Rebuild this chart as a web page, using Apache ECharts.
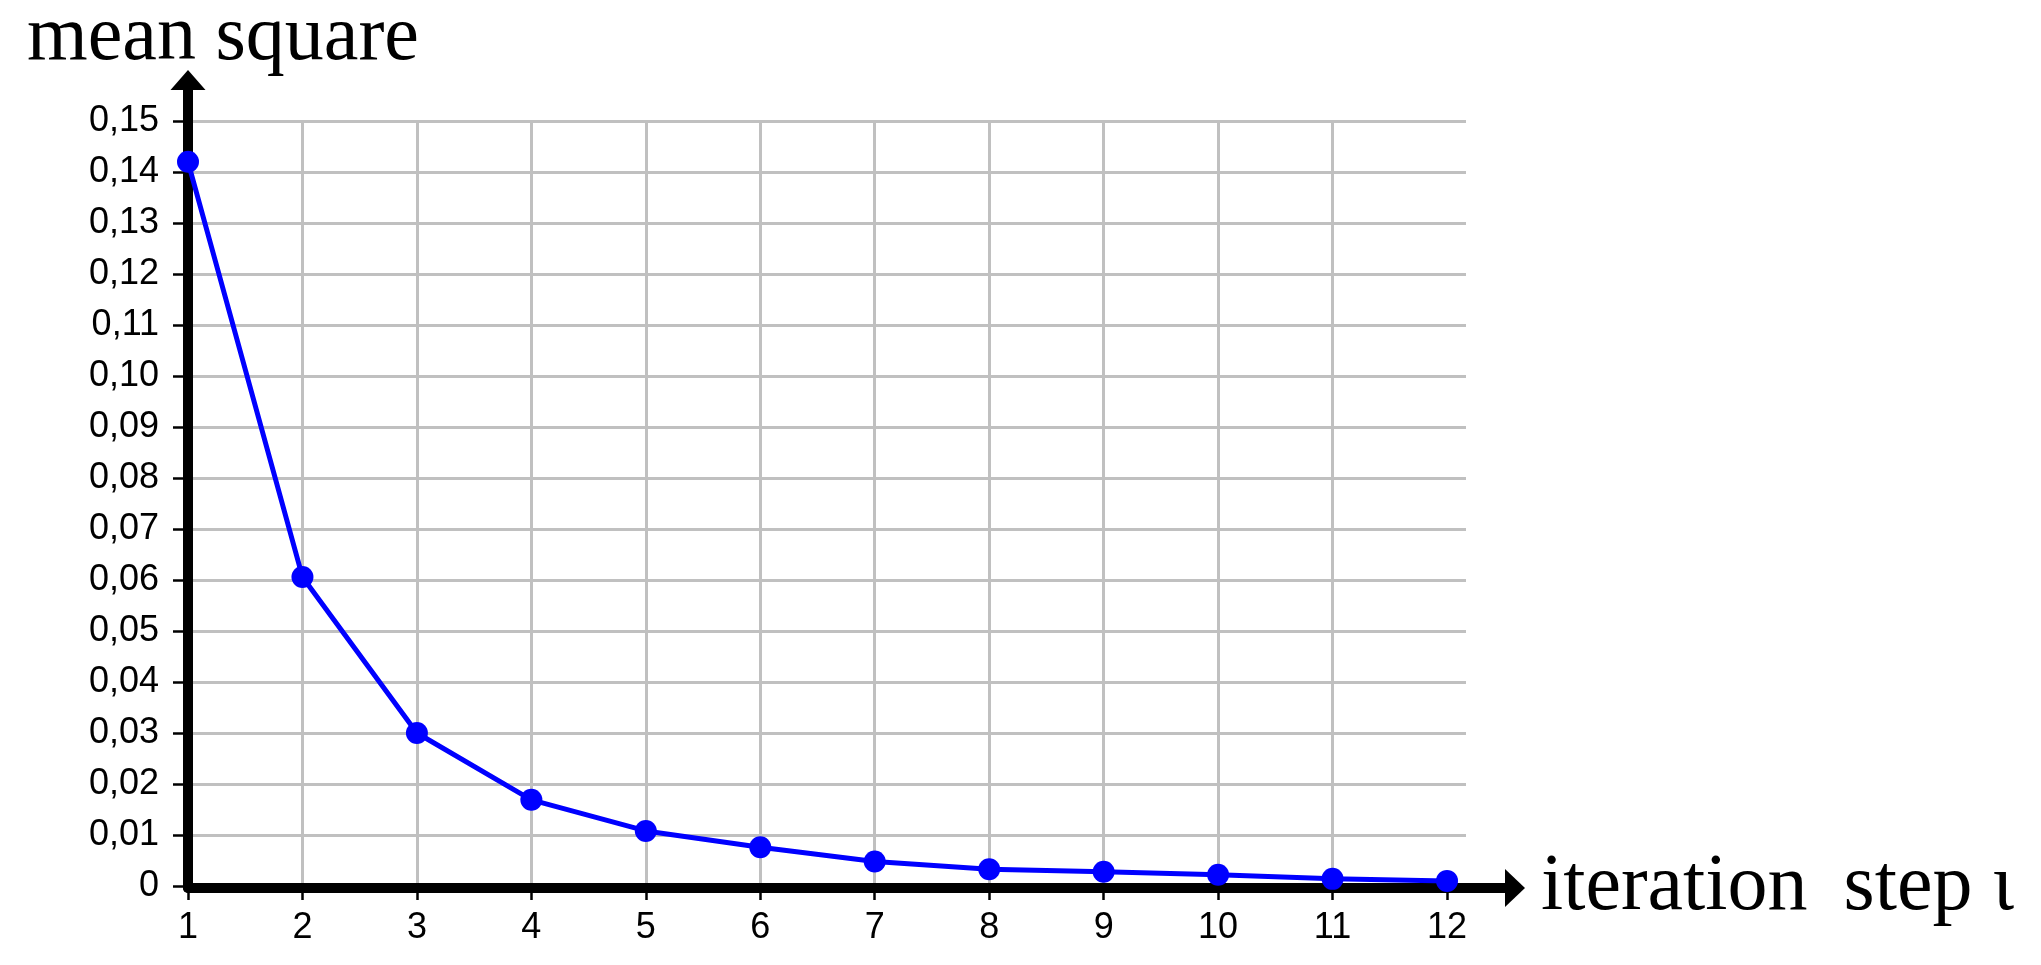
<!DOCTYPE html>
<html>
<head>
<meta charset="utf-8">
<script src="https://cdn.jsdelivr.net/npm/echarts@6/dist/echarts.min.js"></script>
<style>
  html, body { margin: 0; padding: 0; background: #fff; }
  #main { width: 2041px; height: 965px; }
</style>
</head>
<body>
<div id="main"></div>
<script>
// iteration steps and mean square values
var steps = [1, 2, 3, 4, 5, 6, 7, 8, 9, 10, 11, 12];
var meanSquare = [0.142, 0.0606, 0.030, 0.0169, 0.0108, 0.0076, 0.0048, 0.0033, 0.0028, 0.0022, 0.0014, 0.0010];
var yTicks = [0, 0.01, 0.02, 0.03, 0.04, 0.05, 0.06, 0.07, 0.08, 0.09, 0.10, 0.11, 0.12, 0.13, 0.14, 0.15];

var chart = echarts.init(document.getElementById('main'));

var points = steps.map(function (s, i) { return [s, meanSquare[i]]; });

var option = {
  backgroundColor: '#fff',
  animation: false,
  grid: [
    // data grid with the gray lines
    { left: 188, top: 121, width: 1278, height: 765 },
    // just the black axes with arrows
    { left: 188, top: 71, width: 1327, height: 817 }
  ],
  xAxis: [
    {
      gridIndex: 0,
      type: 'value',
      min: 1,
      max: 12.166,
      interval: 1,
      axisLine: { show: false },
      axisTick: { show: true, length: 14, inside: false, customValues: steps, lineStyle: { color: '#000', width: 2.5 } },
      axisLabel: {
        customValues: steps,
        margin: 24,
        color: '#000',
        fontFamily: 'Liberation Sans',
        fontSize: 36
      },
      splitLine: { show: true, showMaxLine: false, lineStyle: { color: '#c0c0c0', width: 3 } }
    },
    {
      gridIndex: 1,
      type: 'value',
      min: 0,
      max: 1,
      axisLine: {
        show: true,
        symbol: ['none', 'triangle'],
        symbolSize: [38, 20],
        lineStyle: { color: '#000', width: 10 }
      },
      axisTick: { show: false },
      axisLabel: { show: false },
      splitLine: { show: false },
      name: 'iteration \u2009step \u03b9',
      nameLocation: 'end',
      nameGap: 26,
      nameTextStyle: {
        color: '#000',
        fontFamily: 'Liberation Serif',
        fontSize: 80,
        padding: [0, 0, 12, 0]
      }
    }
  ],
  yAxis: [
    {
      gridIndex: 0,
      type: 'value',
      min: 0,
      max: 0.15,
      interval: 0.01,
      axisLine: { show: false },
      axisTick: { show: true, length: 15, lineStyle: { color: '#000', width: 2.5 } },
      axisLabel: {
        margin: 29,
        color: '#000',
        fontFamily: 'Liberation Sans',
        fontSize: 36,
        formatter: function (v) {
          if (v === 0) return '0';
          return v.toFixed(2).replace('.', ',');
        }
      },
      splitLine: { show: true, lineStyle: { color: '#c0c0c0', width: 3 } }
    },
    {
      gridIndex: 1,
      type: 'value',
      min: 0,
      max: 1,
      axisLine: {
        show: true,
        symbol: ['none', 'triangle'],
        symbolSize: [35, 20],
        lineStyle: { color: '#000', width: 10 }
      },
      axisTick: { show: false },
      axisLabel: { show: false },
      splitLine: { show: false },
      name: 'mean square',
      nameLocation: 'end',
      nameGap: 2,
      nameTextStyle: {
        color: '#000',
        fontFamily: 'Liberation Serif',
        fontSize: 78,
        padding: [0, 0, 0, 70]
      }
    }
  ],
  series: [
    {
      type: 'line',
      xAxisIndex: 0,
      yAxisIndex: 0,
      data: points,
      z: 5,
      symbol: 'circle',
      symbolSize: 22,
      color: '#0000ff',
      lineStyle: { color: '#0000ff', width: 5 },
      itemStyle: { color: '#0000ff' }
    }
  ]
};

chart.setOption(option);
</script>
</body>
</html>
